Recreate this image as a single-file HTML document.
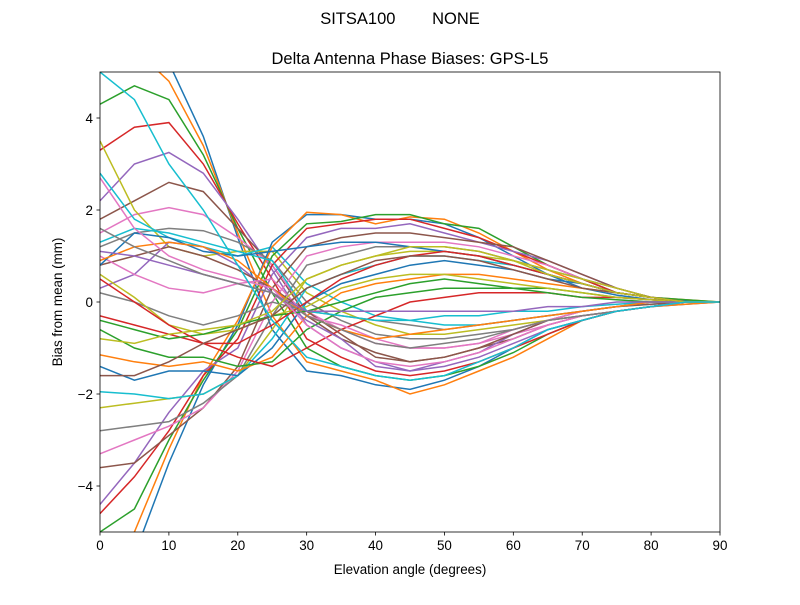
<!DOCTYPE html>
<html><head><meta charset="utf-8"><style>
body{margin:0;background:#fff;font-family:"Liberation Sans","DejaVu Sans",sans-serif;}
svg text{font-family:"Liberation Sans","DejaVu Sans",sans-serif;fill:#000;}
</style></head><body>
<svg id="chart" width="800" height="600" xmlns="http://www.w3.org/2000/svg">
<rect width="800" height="600" fill="#fff"/>
<text x="400" y="24" font-size="16.5" text-anchor="middle" xml:space="preserve">SITSA100        NONE</text>
<text x="410" y="64" font-size="16.5" text-anchor="middle">Delta Antenna Phase Biases: GPS-L5</text>
<defs><clipPath id="clip"><rect x="100" y="72" width="620" height="460"/></clipPath></defs>
<g id="lines" clip-path="url(#clip)"></g>
<rect x="100" y="72" width="620" height="460" fill="none" stroke="#000" stroke-width="0.8"/>
<g id="xticks"></g>
<g id="yticks"></g>
<text x="410" y="574" font-size="13.4" text-anchor="middle">Elevation angle (degrees)</text>
<text x="62" y="302" font-size="13.4" text-anchor="middle" transform="rotate(-90 62 302)">Bias from mean (mm)</text>
</svg>
<script>
const elevations=[0,5,10,15,20,25,30,35,40,45,50,55,60,65,70,75,80,85,90];
const xTicks=[0,10,20,30,40,50,60,70,80,90];
const yTicks=[-4,-2,0,2,4];
const s1=[7,6,5.2,3.6,1.4,-0.6,-1.5,-1.6,-1.8,-1.9,-1.7,-1.4,-1.0,-0.6,-0.4,-0.2,-0.1,-0.05,0];
const s2=[6,5.5,4.8,3.4,1.5,-0.3,-1.3,-1.5,-1.7,-2.0,-1.8,-1.5,-1.2,-0.8,-0.4,-0.2,-0.1,-0.05,0];
const s3=[4.3,4.7,4.4,3.2,1.6,0.2,-1.0,-1.4,-1.6,-1.7,-1.6,-1.4,-1.1,-0.7,-0.4,-0.2,-0.1,0,0];
const s4=[3.3,3.8,3.9,3.0,1.7,0.5,-0.8,-1.2,-1.5,-1.6,-1.5,-1.3,-1.0,-0.7,-0.4,-0.2,-0.1,0,0];
const s5=[2.2,3.0,3.25,2.8,1.8,0.7,-0.5,-1.0,-1.3,-1.5,-1.4,-1.2,-0.9,-0.6,-0.4,-0.2,-0.1,0,0];
const s6=[1.8,2.2,2.6,2.4,1.6,0.8,-0.3,-0.8,-1.1,-1.3,-1.2,-1.0,-0.8,-0.5,-0.3,-0.2,-0.1,0,0];
const s7=[1.5,1.9,2.05,1.9,1.4,0.8,-0.2,-0.6,-0.9,-1.0,-1.0,-0.9,-0.7,-0.5,-0.3,-0.2,-0.1,0,0];
const s8=[1.2,1.5,1.6,1.55,1.3,0.9,0,-0.4,-0.7,-0.8,-0.8,-0.7,-0.6,-0.4,-0.3,-0.2,-0.1,0,0];
const s9=[3.5,2.0,1.2,1.0,1.1,1.1,0.2,-0.2,-0.5,-0.7,-0.7,-0.6,-0.5,-0.4,-0.3,-0.2,-0.1,0,0];
const s10=[2.8,1.8,1.4,1.2,1.0,1.2,0.4,0,-0.3,-0.4,-0.5,-0.5,-0.4,-0.3,-0.2,-0.1,-0.05,0,0];
const s11=[-6,-5.5,-3.5,-1.8,-0.5,1.3,1.9,1.9,1.8,1.8,1.7,1.4,1.0,0.6,0.3,0.15,0.05,0.02,0];
const s12=[-5.5,-5,-3.2,-1.6,-0.4,1.2,1.95,1.9,1.7,1.85,1.8,1.5,1.1,0.7,0.4,0.2,0.1,0.05,0];
const s13=[-5,-4.5,-3,-1.7,-0.6,1.0,1.7,1.75,1.9,1.9,1.7,1.6,1.2,0.8,0.5,0.2,0.1,0.05,0];
const s14=[-4.6,-3.8,-2.8,-1.6,-0.8,0.8,1.6,1.7,1.8,1.8,1.6,1.4,1.1,0.8,0.5,0.2,0.1,0,0];
const s15=[-4.4,-3.5,-2.4,-1.5,-1.0,0.6,1.4,1.6,1.6,1.7,1.5,1.3,1.1,0.9,0.6,0.3,0.1,0,0];
const s16=[-3.6,-3.5,-2.9,-2.3,-1.4,0.3,1.2,1.4,1.5,1.5,1.4,1.3,1.2,0.9,0.6,0.3,0.1,0,0];
const s17=[-3.3,-3.0,-2.7,-2.3,-1.5,0.0,1.0,1.2,1.3,1.3,1.3,1.2,1.0,0.8,0.5,0.3,0.1,0,0];
const s18=[-2.8,-2.7,-2.6,-2.2,-1.6,-0.3,0.8,1.0,1.2,1.2,1.2,1.1,0.9,0.7,0.5,0.3,0.1,0,0];
const s19=[-2.3,-2.2,-2.1,-2.0,-1.6,-0.6,0.5,0.8,1.0,1.1,1.1,1.0,0.9,0.7,0.5,0.3,0.1,0,0];
const s20=[-1.95,-2.0,-2.1,-2.0,-1.6,-0.8,0.3,0.6,0.8,1.0,1.0,0.9,0.8,0.6,0.4,0.2,0.1,0,0];
const s21=[-1.4,-1.7,-1.5,-1.5,-1.6,-1.0,0.0,0.4,0.6,0.8,0.9,0.8,0.7,0.5,0.4,0.2,0.1,0,0];
const s22=[-1.15,-1.3,-1.4,-1.3,-1.5,-1.2,-0.3,0.2,0.4,0.5,0.6,0.6,0.5,0.4,0.3,0.2,0.1,0,0];
const s23=[-0.6,-1.0,-1.2,-1.2,-1.4,-1.3,-0.6,-0.2,0.1,0.2,0.3,0.3,0.3,0.3,0.2,0.1,0.05,0,0];
const s24=[-0.3,-0.5,-0.7,-0.9,-1.2,-1.4,-1.0,-0.6,-0.3,0,0.1,0.2,0.2,0.2,0.1,0.1,0.05,0,0];
const s25=[0.3,0.6,1.3,1.2,0.8,0.2,-0.4,-0.8,-1.4,-1.5,-1.3,-1.1,-0.7,-0.4,-0.3,-0.2,-0.1,0,0];
const s26=[0.8,1.0,1.2,1.0,0.7,0.3,-0.2,-0.7,-1.2,-1.3,-1.2,-1.0,-0.7,-0.4,-0.2,-0.1,-0.05,0,0];
const s27=[1.0,0.6,0.3,0.2,0.4,0.5,-0.3,-0.5,-0.8,-1.0,-1.0,-0.9,-0.6,-0.4,-0.2,-0.1,0,0,0];
const s28=[0.2,0.0,-0.3,-0.5,-0.3,0.0,-0.2,-0.3,-0.4,-0.5,-0.6,-0.5,-0.4,-0.3,-0.2,-0.1,0,0,0];
const s29=[0.6,0.1,-0.5,-0.7,-0.6,-0.3,-0.1,0.3,0.5,0.6,0.6,0.5,0.4,0.3,0.2,0.1,0.05,0,0];
const s30=[1.3,1.6,1.5,1.3,1.1,0.9,-0.2,-0.3,-0.4,-0.4,-0.3,-0.3,-0.2,-0.2,-0.1,-0.05,0,0,0];
const s31=[0.8,1.5,1.4,1.1,1.0,1.1,1.2,1.3,1.3,1.2,1.1,1.0,0.8,0.6,0.4,0.2,0.1,0,0];
const s32=[0.9,1.2,1.3,1.2,0.9,0.3,-0.3,-0.6,-0.8,-0.7,-0.6,-0.5,-0.4,-0.3,-0.2,-0.1,0,0,0];
const s33=[-0.4,-0.6,-0.8,-0.7,-0.5,-0.3,-0.2,0.0,0.2,0.4,0.5,0.4,0.3,0.2,0.1,0.05,0,0,0];
const s34=[0.5,0.0,-0.5,-0.9,-0.9,-0.5,0.0,0.5,0.8,1.0,1.1,1.0,0.8,0.6,0.4,0.2,0.1,0,0];
const s35=[1.1,1.0,0.8,0.6,0.4,0.2,-0.2,-0.2,-0.2,-0.2,-0.2,-0.2,-0.2,-0.1,-0.1,0,0,0,0];
const s36=[-1.6,-1.6,-1.3,-0.9,-0.6,-0.3,0.3,0.6,0.9,1.0,1.0,0.9,0.7,0.5,0.3,0.2,0.1,0,0];
const s37=[2.7,1.6,1.0,0.7,0.5,0.3,-0.5,-1.0,-1.3,-1.4,-1.3,-1.1,-0.8,-0.5,-0.3,-0.2,-0.1,0,0];
const s38=[1.6,1.2,0.9,0.6,0.4,0.2,-0.3,-0.6,-0.9,-1.0,-0.9,-0.8,-0.6,-0.4,-0.3,-0.2,-0.1,0,0];
const s39=[-0.8,-0.9,-0.7,-0.6,-0.5,-0.2,0.5,0.8,1.0,1.2,1.2,1.1,0.9,0.6,0.4,0.2,0.1,0,0];
const s40=[5,4.4,3.0,2.0,0.8,-0.4,-1.2,-1.4,-1.6,-1.7,-1.6,-1.3,-1.0,-0.6,-0.4,-0.2,-0.1,0,0];
const series=[s1,s2,s3,s4,s5,s6,s7,s8,s9,s10,s11,s12,s13,s14,s15,s16,s17,s18,s19,s20,s21,s22,s23,s24,s25,s26,s27,s28,s29,s30,s31,s32,s33,s34,s35,s36,s37,s38,s39,s40];
const colors=["#1f77b4","#ff7f0e","#2ca02c","#d62728","#9467bd","#8c564b","#e377c2","#7f7f7f","#bcbd22","#17becf"];
const NS="http://www.w3.org/2000/svg";
const X0=100,X1=720,Y0=532,Y1=72,xmin=0,xmax=90,ymin=-5,ymax=5;
function xs(v){return X0+(v-xmin)/(xmax-xmin)*(X1-X0);}
function ys(v){return Y0-(v-ymin)/(ymax-ymin)*(Y0-Y1);}
const g=document.getElementById('lines');
series.forEach((s,i)=>{
  const p=document.createElementNS(NS,'polyline');
  p.setAttribute('points',s.map((v,j)=>xs(elevations[j]).toFixed(1)+','+ys(v).toFixed(1)).join(' '));
  p.setAttribute('fill','none');
  p.setAttribute('stroke',colors[i%10]);
  p.setAttribute('stroke-width','1.5');
  
  
  g.appendChild(p);
});
const xg=document.getElementById('xticks');
xTicks.forEach(t=>{
  const l=document.createElementNS(NS,'line');
  l.setAttribute('x1',xs(t));l.setAttribute('x2',xs(t));l.setAttribute('y1',Y0);l.setAttribute('y2',Y0+3.5);
  l.setAttribute('stroke','#000');l.setAttribute('stroke-width','0.8');
  
  
  xg.appendChild(l);
  const tx=document.createElementNS(NS,'text');
  tx.setAttribute('x',xs(t));tx.setAttribute('y',Y0+18);tx.setAttribute('font-size','13.4');tx.setAttribute('text-anchor','middle');
  tx.textContent=t;
  
  
  xg.appendChild(tx);
});
const yg=document.getElementById('yticks');
yTicks.forEach(t=>{
  const l=document.createElementNS(NS,'line');
  l.setAttribute('x1',X0-3.5);l.setAttribute('x2',X0);l.setAttribute('y1',ys(t));l.setAttribute('y2',ys(t));
  l.setAttribute('stroke','#000');l.setAttribute('stroke-width','0.8');
  
  
  yg.appendChild(l);
  const tx=document.createElementNS(NS,'text');
  tx.setAttribute('x',X0-7);tx.setAttribute('y',ys(t)+5);tx.setAttribute('font-size','13.4');tx.setAttribute('text-anchor','end');
  tx.textContent=t<0?'\u2212'+Math.abs(t):String(t);
  
  
  yg.appendChild(tx);
});
</script>
</body></html>
